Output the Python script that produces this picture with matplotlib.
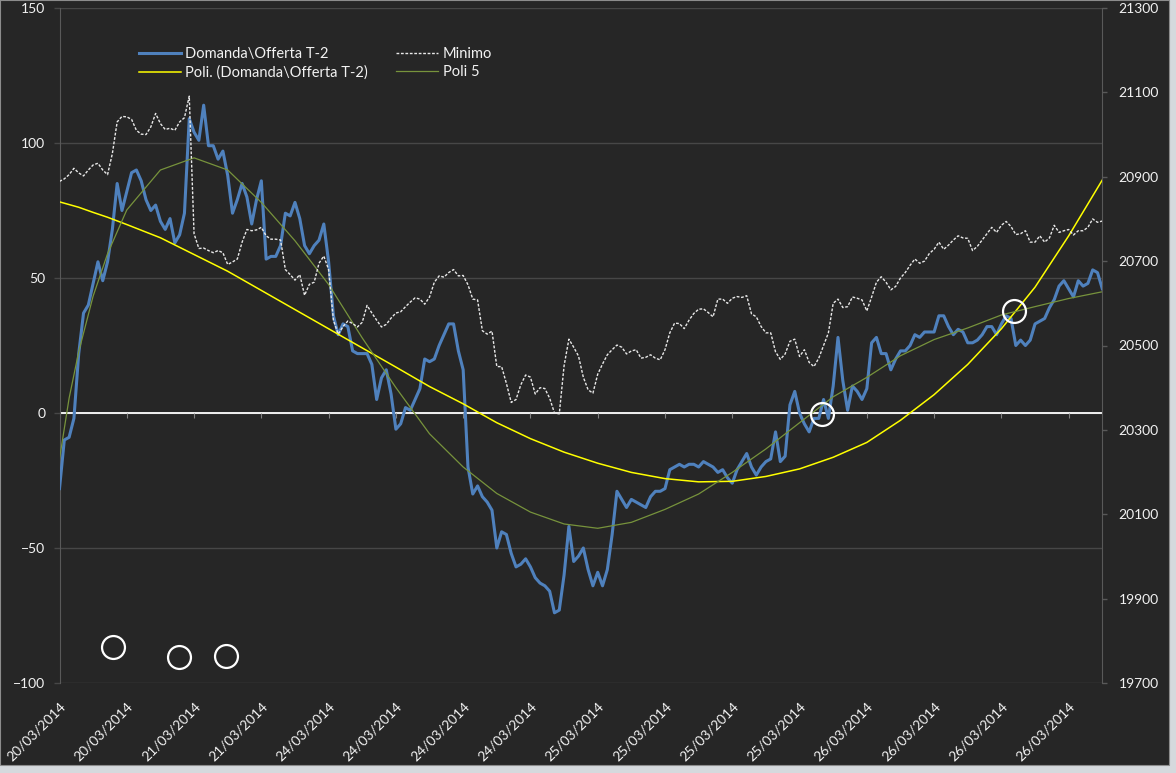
import matplotlib.pyplot as plt
from matplotlib.patches import Rectangle
import numpy as np

plt.rcParams['font.family'] = ['Lato', 'DejaVu Sans']

# Domanda\Offerta T-2 (left axis), one value per category
domanda = [-28, -10, -9, -2, 22, 37, 40, 48, 56, 49,
           56, 68, 85, 75, 82, 89, 90, 86, 79, 75,
           77, 71, 68, 72, 63, 66, 74, 109, 104, 101,
           114, 99, 99, 94, 97, 88, 74, 79, 85, 80,
           70, 79, 86, 57, 58, 58, 62, 74, 73, 78,
           72, 62, 59, 62, 64, 70, 56, 36, 29, 33,
           32, 23, 22, 22, 22, 18, 5, 13, 16, 7,
           -6, -4, 2, 1, 5, 9, 20, 19, 20, 25,
           29, 33, 33, 23, 16, -20, -30, -27, -31, -33,
           -36, -50, -44, -45, -52, -57, -56, -54, -57, -61,
           -63, -64, -66, -74, -73, -60, -42, -55, -53, -50,
           -58, -64, -59, -64, -58, -45, -29, -32, -35, -32,
           -33, -34, -35, -31, -29, -29, -28, -21, -20, -19,
           -20, -19, -19, -20, -18, -19, -20, -22, -21, -24,
           -26, -21, -18, -15, -20, -23, -20, -18, -17, -7,
           -18, -16, 3, 8, 0, -4, -7, -2, -2, 5,
           -2, 10, 28, 12, 1, 10, 8, 5, 9, 26,
           28, 22, 22, 16, 20, 23, 23, 25, 29, 28,
           30, 30, 30, 36, 36, 32, 29, 31, 30, 26,
           26, 27, 29, 32, 32, 29, 33, 36, 35, 25,
           27, 25, 27, 33, 34, 35, 39, 42, 47, 49,
           46, 43, 49, 47, 48, 53, 52, 46]

# Minimo (right axis)
minimo = [20889, 20895, 20905, 20920, 20909, 20902, 20916, 20928, 20932, 20916,
          20905, 20955, 21030, 21043, 21042, 21036, 21010, 21001, 21000, 21018,
          21050, 21026, 21012, 21015, 21010, 21030, 21040, 21091, 20765, 20730,
          20731, 20725, 20720, 20725, 20720, 20692, 20698, 20705, 20745, 20775,
          20772, 20774, 20780, 20760, 20752, 20752, 20750, 20680, 20668, 20655,
          20668, 20619, 20645, 20650, 20695, 20712, 20680, 20560, 20527, 20545,
          20558, 20552, 20544, 20555, 20595, 20577, 20560, 20544, 20550, 20565,
          20577, 20580, 20592, 20603, 20613, 20610, 20598, 20615, 20650, 20665,
          20662, 20673, 20680, 20665, 20666, 20644, 20610, 20608, 20535, 20527,
          20534, 20450, 20450, 20410, 20365, 20372, 20407, 20430, 20425, 20385,
          20400, 20398, 20375, 20340, 20338, 20452, 20515, 20496, 20475, 20425,
          20395, 20387, 20432, 20456, 20478, 20490, 20501, 20496, 20480, 20487,
          20490, 20470, 20472, 20478, 20470, 20466, 20490, 20530, 20553, 20552,
          20540, 20560, 20576, 20586, 20587, 20578, 20568, 20610, 20610, 20600,
          20612, 20616, 20614, 20618, 20575, 20568, 20545, 20530, 20530, 20485,
          20467, 20480, 20510, 20515, 20474, 20490, 20460, 20450, 20470, 20500,
          20530, 20600, 20610, 20590, 20592, 20615, 20612, 20608, 20582, 20615,
          20650, 20663, 20650, 20632, 20640, 20660, 20673, 20690, 20705, 20695,
          20700, 20718, 20728, 20745, 20728, 20738, 20750, 20760, 20755, 20754,
          20725, 20735, 20750, 20765, 20780, 20768, 20785, 20794, 20782, 20763,
          20765, 20772, 20745, 20745, 20760, 20745, 20755, 20785, 20768, 20772,
          20775, 20762, 20772, 20772, 20780, 20800, 20792, 20795]

# trend lines, read at these category positions
trend_idx = [0, 2, 4, 7, 10, 14, 21, 28, 35, 42, 49, 56, 63, 70, 77, 84, 91, 98,
             105, 112, 119, 126, 133, 140, 147, 154, 161, 168, 175, 182, 189,
             196, 203, 210, 217]
poli_trend = [78.2, 77.2, 76.2, 74.3, 72.5, 69.8, 64.9, 58.7, 52.5, 45.4, 38.3,
              31.2, 24.1, 17.0, 9.8, 3.4, -3.6, -9.5, -14.5, -18.6, -22.0, -24.3,
              -25.5, -25.3, -23.5, -20.7, -16.4, -10.9, -2.7, 6.8, 18.0, 31.2,
              46.6, 65.6, 86.3]
poli5 = [-17, 5.5, 22.7, 43.3, 59, 75.2, 90, 94.5, 90, 78, 63.8, 47.6, 27.8,
         9.4, -7.7, -20, -29.8, -36.7, -41.1, -42.7, -40.5, -35.7, -30, -22,
         -13.3, -3.6, 6, 13.2, 21.2, 27.2, 31.5, 36.3, 39.4, 42.4, 44.9]

# hand drawn circles (category, value)
circle_idx = [11.1, 24.8, 34.6, 158.7, 198.6]
circle_val = [-86.5, -90.5, -90, -0.3, 37.8]

tick_idx = list(range(0, 211, 14))
tick_labels = ['20/03/2014', '20/03/2014', '21/03/2014', '21/03/2014',
               '24/03/2014', '24/03/2014', '24/03/2014', '24/03/2014',
               '25/03/2014', '25/03/2014', '25/03/2014', '25/03/2014',
               '26/03/2014', '26/03/2014', '26/03/2014', '26/03/2014']

bg = '#262626'
grid = '#474747'
txt = '#f2f2f2'

W, H = 1176, 773
fig = plt.figure(figsize=(W / 100, H / 100), dpi=100)
fig.patch.set_facecolor('#d5d9dd')
fig.patches.append(Rectangle((0, 1 - 765 / H), 1169 / W, 765 / H, transform=fig.transFigure,
                             facecolor=bg, edgecolor='#8c8c8c', lw=0.8, zorder=-10))

ax = fig.add_axes([59.5 / W, 1 - 683 / H, (1102.3 - 59.5) / W, 675 / H])
ax.set_facecolor(bg)
x = np.arange(len(domanda))

ax.plot(x, domanda, color='#4F81BD', lw=2.2, zorder=3)
ax.plot(trend_idx, poli_trend, color='#FFFF00', lw=1.1, zorder=4)
ax.plot(trend_idx, poli5, color='#77933C', lw=0.9, zorder=4)
ax.axhline(0, color='white', lw=1.3, zorder=2)
ax.vlines(tick_idx, -1.9, 0, color='#808080', lw=0.8, zorder=2)
ax.plot(circle_idx, circle_val, linestyle='none', marker='o', markersize=16.5,
        mfc='none', mec='white', mew=1.6, zorder=6)

ax.set_xlim(0, len(domanda) - 1)
ax.set_ylim(-100, 150)
ax.set_yticks(range(-100, 151, 50))
ax.grid(axis='y', color=grid, lw=1)
ax.set_axisbelow(True)
ax.set_xticks(tick_idx)
ax.set_xticklabels(tick_labels, rotation=45, ha='right', va='top', rotation_mode='anchor')
ax.tick_params(axis='x', length=0, pad=12, colors=txt, labelsize=10)
ax.tick_params(axis='y', length=4.3, width=1, color=grid, pad=6, colors=txt, labelsize=10)
for s in ['top', 'bottom', 'right']:
    ax.spines[s].set_visible(False)
ax.spines['left'].set_color('#595959')

ax2 = ax.twinx()
ax2.plot(x, minimo, color='#e8e8e8', lw=1.0, linestyle=(0, (2.0, 1.2)), zorder=3)
ax2.set_ylim(19700, 21300)
ax2.set_yticks(range(19700, 21301, 200))
ax2.tick_params(axis='y', length=3.6, width=1, color='#595959', pad=8, colors=txt, labelsize=10)
for s in ['top', 'bottom', 'left']:
    ax2.spines[s].set_visible(False)
ax2.spines['right'].set_color('#595959')

h1 = ax.lines[0]
h2 = ax.lines[1]
h3 = ax2.lines[0]
h4 = ax.lines[2]
leg = ax2.legend([h1, h2, h3, h4],
                 ['Domanda\\Offerta T-2', 'Poli. (Domanda\\Offerta T-2)', 'Minimo', 'Poli 5'],
                 ncol=2, loc='upper left', bbox_to_anchor=(0.069, 0.953), frameon=False,
                 fontsize=10.5, handlelength=2.9, handletextpad=0.3, columnspacing=1.9,
                 labelspacing=0.3, borderpad=0)
for t in leg.get_texts():
    t.set_color(txt)

fig.savefig('out.png', dpi=100, facecolor=fig.get_facecolor())
